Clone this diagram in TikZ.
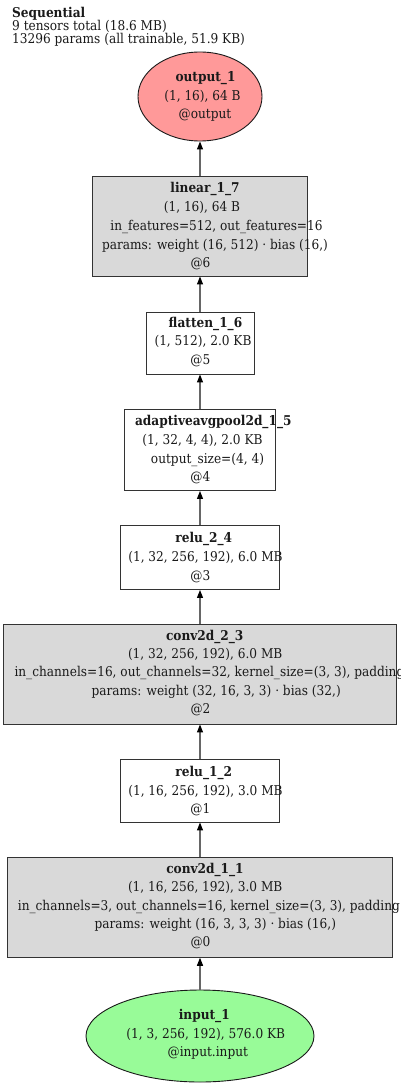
\documentclass[tikz,border=0pt]{standalone}
\usepackage{fontspec}
\setmainfont{DejaVu Serif Condensed}
\usetikzlibrary{arrows.meta, positioning, shapes.geometric}
\definecolor{layerfill}{HTML}{D9D9D9}
\definecolor{outfill}{HTML}{FF9999}
\definecolor{infill}{HTML}{98FB98}
\definecolor{edgegray}{HTML}{666666}
\definecolor{txtcol}{HTML}{1A1A1A}

\begin{document}
\begin{tikzpicture}[x=1pt, y=-1pt,
  layer/.style={draw=black!80, fill=layerfill, line width=0.9pt, inner sep=0pt},
  plain/.style={draw=black!80, fill=white, line width=0.9pt, inner sep=0pt},
  io/.style={ellipse, draw=black!90, line width=0.9pt, inner sep=0pt},
  lbl/.style={anchor=base, inner sep=0pt, text=txtcol, font=\fontsize{13.5pt}{15pt}\selectfont},
  ttl/.style={lbl, font=\fontsize{13.5pt}{15pt}\selectfont\bfseries},
  edge/.style={draw=edgegray, line width=1.1pt, -{Triangle[length=8pt, width=6pt, color=black]}}]
  \useasboundingbox[fill=white] (0,0) rectangle (400,1086);

  % Summary header
  \node[ttl, anchor=base west] (hdr1) at (12,17.5) {Sequential};
  \node[lbl, anchor=base west] (hdr2) at (12,30.5) {9 tensors total (18.6 MB)};
  \node[lbl, anchor=base west] (hdr3) at (12,44) {13296 params (all trainable, 51.9 KB)};

  % Output
  \node[io, fill=outfill, minimum width=124pt, minimum height=89pt] (outp) at (200,96.5) {};
  \node[ttl] (outp-t) at (205.5,82) {output\_1};
  \node[lbl] (outp-s) at (202.5,101) {(1, 16), 64 B};
  \node[lbl] (outp-a) at (205,119) {@output};

  % Linear
  \node[layer, minimum width=215pt, minimum height=100pt] (lin) at (200,226) {};
  \node[ttl] (lin-t) at (205,192.7) {linear\_1\_7};
  \node[lbl] (lin-s) at (202,211.7) {(1, 16), 64 B};
  \node[lbl] (lin-c) at (216.5,230.7) {in\_features=512, out\_features=16};
  \node[lbl] (lin-p) at (215,249) {params: weight (16, 512) · bias (16,)};
  \node[lbl] (lin-a) at (200.5,267) {@6};

  % Flatten
  \node[plain, minimum width=108pt, minimum height=62pt] (flat) at (200,343) {};
  \node[ttl] (flat-t) at (205.5,327.3) {flatten\_1\_6};
  \node[lbl] (flat-s) at (203,345.7) {(1, 512), 2.0 KB};
  \node[lbl] (flat-a) at (200.3,364) {@5};

  % Adaptive pooling
  \node[plain, minimum width=151pt, minimum height=81pt] (pool) at (200,450) {};
  \node[ttl] (pool-t) at (213.3,425) {adaptiveavgpool2d\_1\_5};
  \node[lbl] (pool-s) at (202.5,444.5) {(1, 32, 4, 4), 2.0 KB};
  \node[lbl] (pool-c) at (207.5,463) {output\_size=(4, 4)};
  \node[lbl] (pool-a) at (200.3,481.7) {@4};

  % ReLU 2
  \node[plain, minimum width=159pt, minimum height=64pt] (relub) at (200,557.5) {};
  \node[ttl] (relub-t) at (203.8,542.7) {relu\_2\_4};
  \node[lbl] (relub-s) at (205.5,561.7) {(1, 32, 256, 192), 6.0 MB};
  \node[lbl] (relub-a) at (200.3,580) {@3};

  % Conv 2
  \node[layer, minimum width=393pt, minimum height=100pt] (convb) at (200,674) {};
  \node[ttl] (convb-t) at (204.7,640) {conv2d\_2\_3};
  \node[lbl] (convb-s) at (205.2,658.5) {(1, 32, 256, 192), 6.0 MB};
  \node[lbl, anchor=base west] (convb-c) at (14.3,676.7) {in\_channels=16, out\_channels=32, kernel\_size=(3, 3), padding=(1, 1)};
  \node[lbl] (convb-p) at (216.2,695) {params: weight (32, 16, 3, 3) · bias (32,)};
  \node[lbl] (convb-a) at (200.5,713.3) {@2};

  % ReLU 1
  \node[plain, minimum width=159pt, minimum height=63pt] (relua) at (200,790.5) {};
  \node[ttl] (relua-t) at (203.8,776) {relu\_1\_2};
  \node[lbl] (relua-s) at (205.5,795) {(1, 16, 256, 192), 3.0 MB};
  \node[lbl] (relua-a) at (200.3,813.3) {@1};

  % Conv 1
  \node[layer, minimum width=385pt, minimum height=100pt] (conva) at (200,907.3) {};
  \node[ttl] (conva-t) at (205,873.3) {conv2d\_1\_1};
  \node[lbl] (conva-s) at (205.2,891.7) {(1, 16, 256, 192), 3.0 MB};
  \node[lbl, anchor=base west] (conva-c) at (17.7,910) {in\_channels=3, out\_channels=16, kernel\_size=(3, 3), padding=(1, 1)};
  \node[lbl] (conva-p) at (215.3,928.3) {params: weight (16, 3, 3, 3) · bias (16,)};
  \node[lbl] (conva-a) at (200.5,946.7) {@0};

  % Input
  \node[io, fill=infill, minimum width=228pt, minimum height=92pt] (inp) at (200,1036) {};
  \node[ttl] (inp-t) at (204.3,1019.3) {input\_1};
  \node[lbl] (inp-s) at (205.8,1038.3) {(1, 3, 256, 192), 576.0 KB};
  \node[lbl] (inp-a) at (207.8,1056.7) {@input.input};

  % Data flow, bottom to top
  \draw[edge] (inp) -- (conva);
  \draw[edge] (conva) -- (relua);
  \draw[edge] (relua) -- (convb);
  \draw[edge] (convb) -- (relub);
  \draw[edge] (relub) -- (pool);
  \draw[edge] (pool) -- (flat);
  \draw[edge] (flat) -- (lin);
  \draw[edge] (lin) -- (outp);
\end{tikzpicture}
\end{document}
